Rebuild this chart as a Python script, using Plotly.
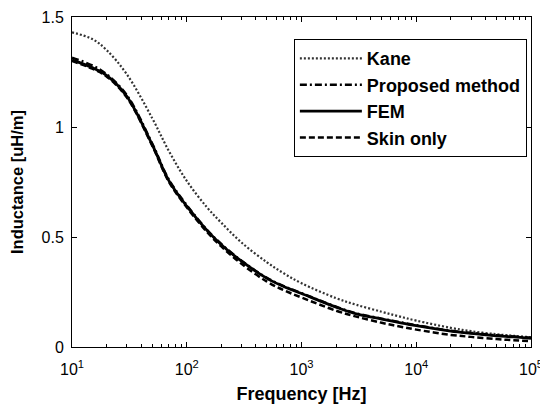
import plotly.graph_objects as go

# frequency points (Hz)
freq = [10, 15, 20, 30, 50, 70, 100, 150, 200, 300, 500, 700,
        1e3, 2e3, 3e3, 5e3, 7e3, 1e4, 2e4, 3e4, 5e4, 7e4, 1e5]

# inductance [uH/m]
kane = [1.43, 1.40, 1.35, 1.24, 1.04, 0.89, 0.755, 0.635, 0.565, 0.475, 0.385, 0.335,
        0.29, 0.222, 0.192, 0.16, 0.14, 0.12, 0.087, 0.072, 0.058, 0.051, 0.044]
proposed = [1.315, 1.28, 1.24, 1.145, 0.925, 0.76, 0.645, 0.533, 0.468, 0.392, 0.314, 0.277,
            0.245, 0.183, 0.153, 0.129, 0.114, 0.099, 0.074, 0.064, 0.053, 0.048, 0.042]
fem = [1.305, 1.27, 1.235, 1.14, 0.92, 0.755, 0.64, 0.53, 0.465, 0.39, 0.312, 0.275,
       0.243, 0.181, 0.151, 0.127, 0.112, 0.097, 0.072, 0.062, 0.051, 0.046, 0.039]
skin = [1.30, 1.265, 1.23, 1.135, 0.915, 0.75, 0.635, 0.523, 0.457, 0.378, 0.297, 0.258,
        0.225, 0.165, 0.138, 0.11, 0.094, 0.079, 0.055, 0.046, 0.036, 0.031, 0.027]

series = [
    ("Kane", kane, "2px,2px", "#333333", 2.2),
    ("Proposed method", proposed, "7px,3px,2px,3px", "black", 2.5),
    ("FEM", fem, "solid", "black", 2.8),
    ("Skin only", skin, "6px,3px", "black", 2.5),
]

x_ticks = [10, 100, 1e3, 1e4, 1e5]
x_ticktext = ["10<sup>1</sup>", "10<sup>2</sup>", "10<sup>3</sup>", "10<sup>4</sup>", "10<sup>5</sup>"]
x_minor = [m * 10 ** d for d in range(1, 5) for m in range(2, 10)]

font = "Liberation Sans, Arial, sans-serif"

fig = go.Figure()
for name, vals, dash, color, width in series:
    fig.add_trace(go.Scatter(x=freq, y=vals, mode="lines", name="<b>" + name + "</b>",
                             line=dict(color=color, dash=dash, width=width, shape="spline")))

axis_common = dict(
    showline=True, linecolor="black", linewidth=1, mirror="ticks",
    ticks="inside", ticklen=5, tickcolor="black", showgrid=False, zeroline=False,
    automargin=False,
    tickfont=dict(family=font, size=16, color="black"),
)

fig.update_xaxes(
    type="log", range=[1, 5], tickmode="array", tickvals=x_ticks, ticktext=x_ticktext,
    minor=dict(tickmode="array", tickvals=x_minor, ticks="inside", ticklen=3,
               tickcolor="black", showgrid=False),
    ticklabelstandoff=8,
    title=dict(text="<b>Frequency [Hz]</b>", font=dict(family=font, size=18, color="black"), standoff=10),
    **axis_common,
)
fig.update_yaxes(
    range=[0, 1.5], dtick=0.5, ticklabelstandoff=4,
    title=dict(text="<b>Inductance [uH/m]</b>", font=dict(family=font, size=16.5, color="black"), standoff=16),
    **axis_common,
)

# page body adds an 8px offset, so the figure is 540x400 inside the 548x408 window
fig.update_layout(
    width=540, height=400,
    margin=dict(l=64, r=17, t=9, b=61),
    paper_bgcolor="white", plot_bgcolor="white",
    legend=dict(
        x=0.991, y=0.933, xanchor="right", yanchor="top",
        bgcolor="white", bordercolor="black", borderwidth=1,
        font=dict(family=font, size=18, color="black"),
        itemwidth=62,
    ),
    showlegend=True,
)

fig.write_html("out.html")
